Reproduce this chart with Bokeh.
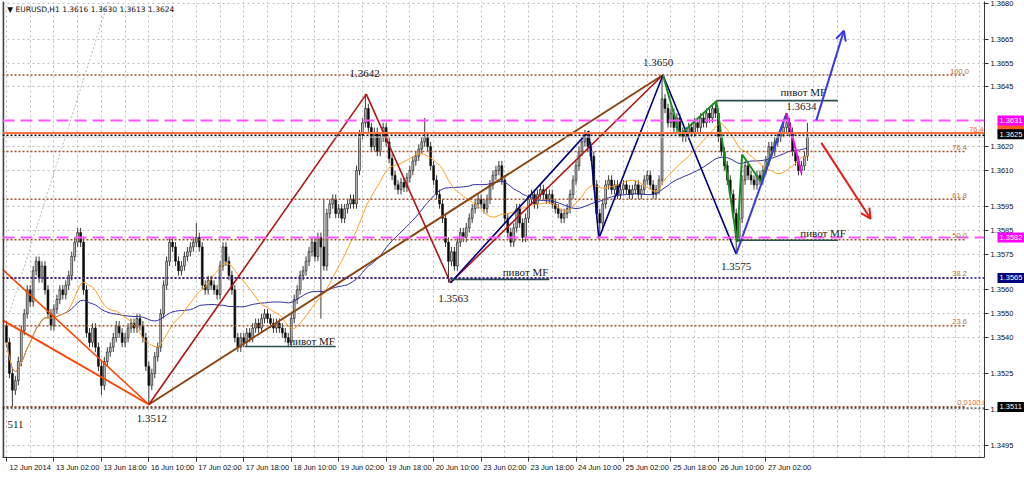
import pandas as pd
from bokeh.plotting import figure
from bokeh.layouts import row
from bokeh.models import (Range1d, FixedTicker, Label, Span, Arrow, OpenHead,
                          NumeralTickFormatter, ColumnDataSource)
from bokeh.core.properties import value
from bokeh.embed import file_html
from bokeh.resources import INLINE

# ---------------- data ----------------
closes = [
    1.3538, 1.3525, 1.3518, 1.3522, 1.3530, 1.3543, 1.3550, 1.3560, 1.3555, 1.3568,
    1.3572, 1.3565, 1.3570, 1.3560, 1.3550, 1.3545, 1.3552, 1.3556, 1.3560, 1.3558,
    1.3562, 1.3566, 1.3574, 1.3580, 1.3584, 1.3580, 1.3560, 1.3542, 1.3538, 1.3544,
    1.3536, 1.3528, 1.3520, 1.3530, 1.3534, 1.3536, 1.3540, 1.3545, 1.3542, 1.3538,
    1.3540, 1.3544, 1.3546, 1.3544, 1.3548, 1.3545, 1.3540, 1.3528, 1.3520, 1.3525,
    1.3532, 1.3536, 1.3550, 1.3562, 1.3572, 1.3580, 1.3578, 1.3572, 1.3568, 1.3570,
    1.3574, 1.3576, 1.3578, 1.3580, 1.3582, 1.3578, 1.3562, 1.3560, 1.3564, 1.3562,
    1.3560, 1.3558, 1.3570, 1.3578, 1.3572, 1.3566, 1.3560, 1.3540, 1.3536, 1.3540,
    1.3538, 1.3542, 1.3540, 1.3544, 1.3546, 1.3544, 1.3548, 1.3550, 1.3548, 1.3546,
    1.3544, 1.3546, 1.3544, 1.3542, 1.3540, 1.3538, 1.3548, 1.3556, 1.3560, 1.3566,
    1.3568, 1.3572, 1.3576, 1.3580, 1.3574, 1.3582, 1.3578, 1.3570, 1.3592, 1.3596,
    1.3598, 1.3592, 1.3594, 1.3590, 1.3594, 1.3596, 1.3598, 1.3596, 1.3610, 1.3625,
    1.3630, 1.3636, 1.3628, 1.3620, 1.3626, 1.3618, 1.3624, 1.3628, 1.3622, 1.3615,
    1.3608, 1.3604, 1.3602, 1.3605, 1.3603, 1.3607, 1.3610, 1.3614, 1.3616, 1.3619,
    1.3622, 1.3624, 1.3620, 1.3612, 1.3606, 1.3600, 1.3596, 1.3590, 1.3580, 1.3572,
    1.3576, 1.3570, 1.3580, 1.3584, 1.3582, 1.3586, 1.3590, 1.3594, 1.3596, 1.3598,
    1.3596, 1.3594, 1.3598, 1.3604, 1.3608, 1.3610, 1.3612, 1.3606, 1.3590, 1.3584,
    1.3580, 1.3586, 1.3594, 1.3588, 1.3582, 1.3590, 1.3598, 1.3600, 1.3596, 1.3600,
    1.3602, 1.3600, 1.3598, 1.3600, 1.3596, 1.3594, 1.3592, 1.3590, 1.3592, 1.3594,
    1.3600, 1.3606, 1.3612, 1.3618, 1.3622, 1.3624, 1.3620, 1.3616, 1.3604, 1.3592,
    1.3588, 1.3596, 1.3604, 1.3606, 1.3602, 1.3604, 1.3600, 1.3602, 1.3604, 1.3602,
    1.3600, 1.3602, 1.3604, 1.3600, 1.3602, 1.3606, 1.3608, 1.3604, 1.3600, 1.3602,
    1.3606, 1.3640, 1.3636, 1.3630, 1.3634, 1.3628, 1.3632, 1.3626, 1.3624, 1.3626,
    1.3628, 1.3626, 1.3630, 1.3628, 1.3632, 1.3630, 1.3634, 1.3632, 1.3636, 1.3634,
    1.3624, 1.3618, 1.3612, 1.3606, 1.3600, 1.3592, 1.3582, 1.3590, 1.3606, 1.3612,
    1.3608, 1.3606, 1.3604, 1.3608, 1.3606, 1.3610, 1.3614, 1.3620, 1.3618, 1.3622,
    1.3624, 1.3626, 1.3628, 1.3630, 1.3626, 1.3618, 1.3614, 1.3610, 1.3612, 1.3616,
    1.3624,
]
first_open = 1.3545
spike_highs = {64: 1.3588, 107: 1.3598, 121: 1.3642, 141: 1.3632, 195: 1.3627,
               221: 1.3650, 239: 1.3638, 263: 1.3634, 270: 1.3630}
spike_lows = {2: 1.3511, 32: 1.3516, 48: 1.3512, 95: 1.3536, 106: 1.3548,
              149: 1.3563, 200: 1.3583, 246: 1.3575, 269: 1.3613}
wick = 0.0002

time_labels = ["12 Jun 2014", "13 Jun 02:00", "13 Jun 18:00", "16 Jun 10:00",
               "17 Jun 02:00", "17 Jun 18:00", "18 Jun 10:00", "19 Jun 02:00",
               "19 Jun 18:00", "20 Jun 10:00", "23 Jun 02:00", "23 Jun 18:00",
               "24 Jun 10:00", "25 Jun 02:00", "25 Jun 18:00", "26 Jun 10:00",
               "27 Jun 02:00"]
price_ticks = [1.3680, 1.3665, 1.3655, 1.3645, 1.3620, 1.3610, 1.3595, 1.3585,
               1.3575, 1.3560, 1.3550, 1.3540, 1.3525, 1.3510, 1.3495]

fib_levels = [1.3650, 1.3618, 1.3598, 1.3581, 1.3565, 1.3545, 1.3511]
fib_names = ["100.0", "76.4", "61.8", "50.0", "38.2", "23.6", "0.0"]

# zigzag / trend lines: (bar index, price)
red_a_bars, red_a_prices = [-1.33, 48], [1.35686, 1.3512]
red_b_bars, red_b_prices = [-1.33, 48], [1.35473, 1.3512]
darkred_bars, darkred_prices = [48, 121.3, 149.7, 221.3], [1.3512, 1.3642, 1.3563, 1.3650]
brown_bars, brown_prices = [48, 221.3], [1.3512, 1.3650]
navy_bars, navy_prices = [149.7, 196.3, 199.7, 221.3, 246], [1.3563, 1.36265, 1.35816, 1.3650, 1.3575]
blue_bars, blue_prices = [246, 263], [1.3575, 1.3634]
green_bars = [221.3, 227, 239.3, 246.3, 248, 254.3, 263]
green_prices = [1.3650, 1.36249, 1.3639, 1.3580, 1.36167, 1.36053, 1.3634]
magenta_bars, magenta_prices = [263, 268], [1.3634, 1.3609]
gray_bars, gray_prices = [34.3, 1], [1.36808, 1.35502]

pivot_lines = [([80.3, 111], 1.35363), ([149.7, 183], 1.35644),
               ([239.3, 280.3], 1.36393), ([246, 280.3], 1.35808)]
pivot_text_pos = [(110.7, 1.35388), (182.7, 1.35673), (276.3, 1.36429), (283, 1.35837)]

value_labels = [("1.3642", 120.7, 1.36506), ("1.3650", 219.7, 1.36551),
                ("1.3634", 268, 1.36367), ("1.3563", 150.7, 1.35563),
                ("1.3512", 49, 1.35061), ("1.3575", 246, 1.35698)]

# price boxes at the price scale
box_levels = [1.3631, 1.36252, 1.3582, 1.3565, 1.3511]
box_texts = ["1.3631", "1.3625", "1.3582", "1.3565", "1.3511"]
box_colors = ["#FF00FF", "#000000", "#FF00FF", "#000080", "#000000"]
under_box_level, under_box_color = 1.36275, "#FF5A20"

# ---------------- derived OHLC ----------------
n = len(closes)
idx = list(range(n))
opens = [first_open] + closes[:-1]
highs = [max(spike_highs.get(i, 0), max(opens[i], closes[i]) + wick) for i in idx]
lows = [min(spike_lows.get(i, 9), min(opens[i], closes[i]) - wick) for i in idx]
tops = [max(o, c) for o, c in zip(opens, closes)]
bots = [min(o, c) for o, c in zip(opens, closes)]
fills = ["#c8c8c8" if c >= o else "#000000" for o, c in zip(opens, closes)]
ma_fast = pd.Series(closes).rolling(21, min_periods=1).mean().tolist()
ma_slow = pd.Series(closes).rolling(50, min_periods=1).mean().tolist()

src = ColumnDataSource(dict(i=idx, h=highs, l=lows, top=tops, bot=bots, fill=fills))

X0, X1 = -1.33, 329.7
W, H = 1016, 474
AXIS_FONT = "Liberation Sans"
AXIS_SIZE = "7.5px"

p = figure(width=W, height=H, x_range=Range1d(X0, X1),
           y_range=Range1d(1.34898, 1.36808), output_backend="svg",
           toolbar_location=None, y_axis_location="right",
           min_border_left=2, min_border_top=1, min_border_right=0)
p.background_fill_color = "white"
p.outline_line_color = None

# axes
ya = p.yaxis[0]
ya.ticker = FixedTicker(ticks=price_ticks, minor_ticks=[])
ya.formatter = NumeralTickFormatter(format="0.0000")
ya.major_label_text_font = AXIS_FONT
ya.major_label_text_font_size = AXIS_SIZE
ya.major_label_text_color = "#111111"
ya.major_tick_out = 4
ya.major_tick_in = 0
ya.major_label_standoff = 2
ya.axis_line_color = "#333333"
ya.major_tick_line_color = "#333333"


def style_xaxis(ax, ticks, minor, overrides, visible=True):
    ax.ticker = FixedTicker(ticks=ticks, minor_ticks=minor)
    ax.major_label_overrides = overrides
    ax.major_tick_out = 0
    ax.major_tick_in = 0
    ax.minor_tick_out = 4
    ax.minor_tick_in = 0
    ax.minor_tick_line_color = "#333333" if visible else None
    ax.major_label_text_font = AXIS_FONT
    ax.major_label_text_font_size = AXIS_SIZE
    ax.major_label_text_color = "#111111"
    ax.major_label_text_alpha = 1 if visible else 0
    ax.major_label_standoff = 1
    ax.axis_line_color = "#333333" if visible else None


label_pos = [k * 16 + 8 for k in range(len(time_labels))]
style_xaxis(p.xaxis[0], label_pos, [k * 16 for k in range(len(time_labels))],
            {pos: lab for pos, lab in zip(label_pos, time_labels)})

p.xgrid.ticker = FixedTicker(ticks=list(range(0, 330, 8)))
p.ygrid.ticker = FixedTicker(ticks=price_ticks)
for g in (p.xgrid[0], p.ygrid[0]):
    g.grid_line_color = "#bdbdbd"
    g.grid_line_dash = "2 3"
    g.grid_line_width = 1

p.add_layout(Span(location=X0 + 0.25, dimension="height", line_color="#444444", line_width=2))

# candles
p.segment(x0="i", y0="l", x1="i", y1="h", source=src, line_color="#3a3a3a", line_width=1)
p.vbar(x="i", width=0.62, top="top", bottom="bot", source=src,
       fill_color="fill", line_color="#202020", line_width=0.7)

# moving averages
p.line(idx, ma_slow, line_color="#3030A0", line_width=1)
p.line(idx, ma_fast, line_color="#FFA020", line_width=1)

# horizontal levels
for lvl in fib_levels:
    p.line([X0, 323.5], [lvl, lvl], line_color="#A0522D", line_width=1.6, line_dash="2 2")
p.add_layout(Span(location=1.3631, dimension="width", line_color="#FF55FF", line_width=2, line_dash="12 6"))
p.add_layout(Span(location=1.3582, dimension="width", line_color="#FF55FF", line_width=2, line_dash="12 6"))
p.add_layout(Span(location=1.3565, dimension="width", line_color="#1010A0", line_width=1.5, line_dash="2 2"))
p.add_layout(Span(location=1.36257, dimension="width", line_color="#FF7043", line_width=2))
p.add_layout(Span(location=1.36248, dimension="width", line_color="#000000", line_width=1.5, line_dash="2 2"))
p.add_layout(Span(location=1.3624, dimension="width", line_color="#c8c8c8", line_width=1))
p.add_layout(Span(location=1.35105, dimension="width", line_color="#000000", line_width=1, line_dash="2 2"))

# trend / zigzag lines
p.line(gray_bars, gray_prices, line_color="#b8b8b8", line_width=1, line_dash="2 2")
p.line(red_a_bars, red_a_prices, line_color="#FF4500", line_width=1.6)
p.line(red_b_bars, red_b_prices, line_color="#FF4500", line_width=2)
p.line(brown_bars, brown_prices, line_color="#8B4513", line_width=2)
p.line(darkred_bars, darkred_prices, line_color="#B01515", line_width=1.6)
p.line(navy_bars, navy_prices, line_color="#000080", line_width=1.6)
p.line(green_bars, green_prices, line_color="#1E8C1E", line_width=2)
p.line(blue_bars, blue_prices, line_color="#3A3AE6", line_width=2)
p.line(magenta_bars, magenta_prices, line_color="#FF00FF", line_width=2)

for bars, price in pivot_lines:
    p.line(bars, [price, price], line_color="#2F4F4F", line_width=1.6)
for (bx, by) in pivot_text_pos:
    p.add_layout(Label(x=bx, y=by, text="пивот MF", text_font="Liberation Serif",
                       text_font_size="11px", text_color="#1a1a1a",
                       text_align="right", text_baseline="middle"))

for txt, bx, by in value_labels:
    p.add_layout(Label(x=bx, y=by, text=txt, text_font="Liberation Serif",
                       text_font_size="11px", text_color="#1a1a1a",
                       text_align="center", text_baseline="middle"))
p.add_layout(Label(x=0.33, y=1.35037, text="511", text_font="Liberation Serif",
                   text_font_size="11px", text_color="#1a1a1a",
                   text_align="left", text_baseline="middle"))

# arrows
p.add_layout(Arrow(end=OpenHead(size=10, line_color="#3A3AE0", line_width=2),
                   x_start=273, y_start=1.3631, x_end=282.3, y_end=1.36686,
                   line_color="#3A3AE0", line_width=2))
p.add_layout(Arrow(end=OpenHead(size=10, line_color="#E41B17", line_width=2),
                   x_start=274.7, y_start=1.36216, x_end=291.3, y_end=1.35898,
                   line_color="#E41B17", line_width=2))

# fib labels
for lvl, name in zip(fib_levels, fib_names):
    cx = 322.3 if name == "0.0" else 321.3
    p.add_layout(Label(x=cx, y=lvl, y_offset=4, text=name, text_font="Liberation Sans",
                       text_font_size="7.5px", text_color="#B8732E",
                       text_align="center", text_baseline="middle"))
p.add_layout(Label(x=327, y=1.36257, y_offset=4, text="76.4", text_font="Liberation Sans",
                   text_font_size="7.5px", text_color="#FF5A30",
                   text_align="center", text_baseline="middle"))
p.add_layout(Label(x=327.3, y=1.3511, y_offset=4, text="100.0", text_font="Liberation Sans",
                   text_font_size="7.5px", text_color="#FF5A30",
                   text_align="center", text_baseline="middle"))

# title
p.add_layout(Label(x=0.3, y=1.36776, text="\u25BC EURUSD,H1  1.3616 1.3630 1.3613 1.3624",
                   text_font="DejaVu Sans", text_font_size="7.5px", text_color="#111111",
                   text_align="left", text_baseline="middle"))

# ---------------- price-box strip laid over the price scale ----------------
BW = 40
q = figure(width=BW, height=H, x_range=Range1d(0, BW), y_range=p.y_range,
           output_backend="svg", toolbar_location=None, y_axis_location=None,
           min_border_left=0, min_border_right=0, min_border_top=1,
           margin=(0, 0, 0, -BW // 2))
q.background_fill_color = None
q.border_fill_color = None
q.outline_line_color = None
q.grid.visible = False
style_xaxis(q.xaxis[0], [20], [], {20: "12 Jun 2014"}, visible=False)

q.rect(x=[16.5], y=[under_box_level], width=31, height=10, width_units="screen",
       height_units="screen", fill_color=under_box_color, line_color=None)
q.rect(x=[16.5] * len(box_levels), y=box_levels, width=31, height=10,
       width_units="screen", height_units="screen", fill_color=box_colors, line_color=None)
q.text(x=[3] * len(box_levels), y=box_levels, text=box_texts,
       text_font=value(AXIS_FONT), text_font_size="7.5px", text_color="white",
       text_align="left", text_baseline="middle")

layout = row(p, q)
open("out.html", "w").write(file_html(layout, INLINE))
